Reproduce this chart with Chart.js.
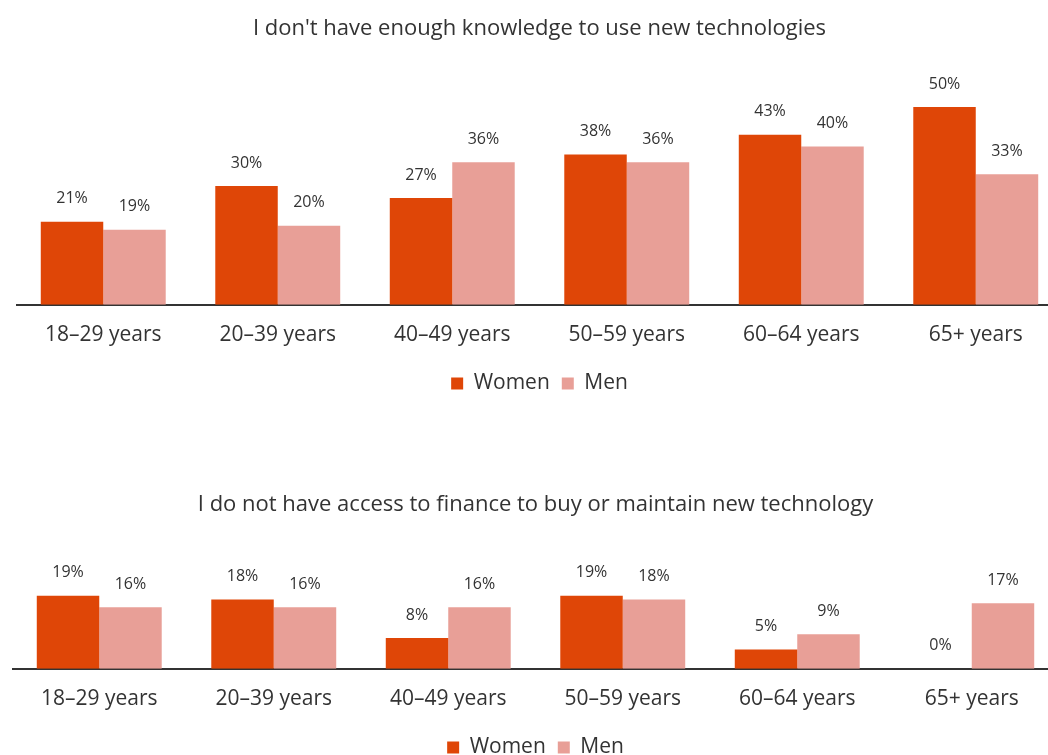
<!DOCTYPE html>
<html>
<head>
<meta charset="utf-8">
<script src="https://cdn.jsdelivr.net/npm/chart.js@4.4.0/dist/chart.umd.min.js"></script>
<style>
  html, body { margin: 0; padding: 0; background: #fff; }
  body { width: 1048px; height: 755px; overflow: hidden; position: relative; }
  .box { position: absolute; }
</style>
</head>
<body>
<div class="box" id="box1" style="left:16px; top:0px; width:1047px; height:404px;"><canvas id="chart1"></canvas></div>
<div class="box" id="box2" style="left:12px; top:476px; width:1047px; height:292px;"><canvas id="chart2"></canvas></div>
<script>
// data
const categories = ['18–29 years', '20–39 years', '40–49 years', '50–59 years', '60–64 years', '65+ years'];
const seriesNames = ['Women', 'Men'];

const knowledgeWomen = [21, 30, 27, 38, 43, 50];
const knowledgeMen = [19, 20, 36, 36, 40, 33];

const financeWomen = [19, 18, 8, 19, 5, 0];
const financeMen = [16, 16, 16, 18, 9, 17];

const titles = [
  "I don't have enough knowledge to use new technologies",
  "I do not have access to finance to buy or maintain new technology"
];

const womenColor = '#DF4607';
const menColor = '#E89F97';
const textColor = '#333333';
const fontFam = '"Open Sans", sans-serif';

// labels above bars
const barLabels = {
  id: 'barLabels',
  afterDatasetsDraw(chart) {
    const ctx = chart.ctx;
    ctx.save();
    ctx.font = '16px ' + fontFam;
    ctx.fillStyle = textColor;
    ctx.textAlign = 'center';
    ctx.textBaseline = 'middle';
    chart.data.datasets.forEach((ds, i) => {
      chart.getDatasetMeta(i).data.forEach((bar, j) => {
        ctx.fillText(ds.data[j] + '%', bar.x, bar.y - 23);
      });
    });
    ctx.restore();
  }
};

function makeChart(id, title, women, men, yMax) {
  const ctx = document.getElementById(id).getContext('2d');
  return new Chart(ctx, {
    type: 'bar',
    data: {
      labels: categories,
      datasets: [
        { label: seriesNames[0], data: women, backgroundColor: womenColor, borderWidth: 0 },
        { label: seriesNames[1], data: men, backgroundColor: menColor, borderWidth: 0 }
      ]
    },
    options: {
      responsive: true,
      maintainAspectRatio: false,
      animation: false,
      datasets: {
        bar: { categoryPercentage: 0.716, barPercentage: 1 }
      },
      layout: { padding: 0 },
      plugins: {
        title: {
          display: true,
          text: title,
          color: textColor,
          font: { family: fontFam, size: 22, weight: 'normal' },
          padding: { top: 16, bottom: 8 }
        },
        legend: {
          position: 'bottom',
          labels: {
            color: textColor,
            font: { family: fontFam, size: 21 },
            boxWidth: 12,
            boxHeight: 12,
            padding: 12
          }
        },
        tooltip: { enabled: false }
      },
      scales: {
        x: {
          grid: { display: false, drawTicks: false },
          border: { display: true, color: '#333333', width: 2 },
          ticks: {
            color: textColor,
            font: { family: fontFam, size: 21 },
            padding: 18,
            maxRotation: 0
          },
          // less room under the labels, so the legend sits closer
          afterFit: (scale) => { scale.height -= 5; }
        },
        y: {
          display: false,
          min: 0,
          max: yMax
        }
      }
    },
    plugins: [barLabels]
  });
}

makeChart('chart1', titles[0], knowledgeWomen, knowledgeMen, 64.3);
makeChart('chart2', titles[1], financeWomen, financeMen, 37);
</script>
</body>
</html>
